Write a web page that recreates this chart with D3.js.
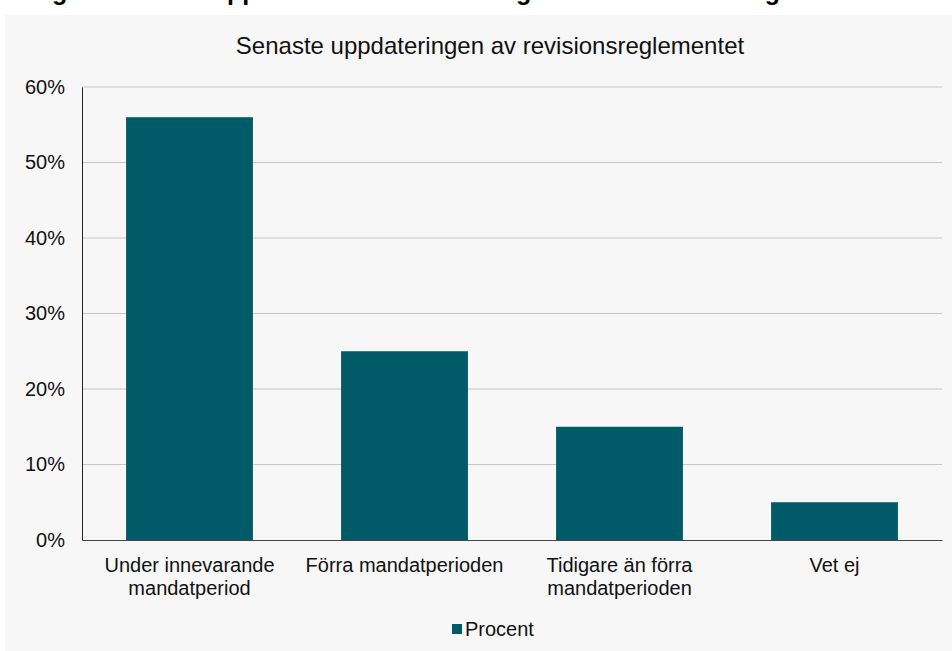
<!DOCTYPE html>
<meta charset="utf-8">
<style>
  body { margin: 0; background: #fff; }
  text { font-family: "Liberation Sans", Arial, sans-serif; }
</style>
<body>
<script src="https://d3js.org/d3.v7.min.js"></script>
<script>
  // Data
  var categories = ["Under innevarande\nmandatperiod", "Förra mandatperioden", "Tidigare än förra\nmandatperioden", "Vet ej"];
  var values = [0.56, 0.25, 0.15, 0.05];
  var yTicks = [0, 0.1, 0.2, 0.3, 0.4, 0.5, 0.6];
  var seriesName = "Procent";

  var W = 952, H = 651;
  var margin = {top: 87, right: 10, bottom: 111, left: 82};
  var width = W - margin.left - margin.right,
      height = H - margin.top - margin.bottom;

  var svg = d3.select("body").append("svg")
      .attr("width", W)
      .attr("height", H);

  // heading of the page, cut off by the top edge (only descenders show)
  svg.append("text")
      .attr("x", 13)
      .attr("y", 0)
      .style("font-weight", "bold")
      .style("font-size", "25px")
      .text("Diagram 12: När uppdaterades revisionsreglementet senast i regionen?");

  // chart background
  svg.append("rect")
      .attr("x", 5).attr("y", 15)
      .attr("width", W - 5).attr("height", H - 15)
      .attr("fill", "#f7f7f7");

  svg.append("text")
      .attr("x", 490)
      .attr("y", 54)
      .attr("text-anchor", "middle")
      .style("font-size", "24px")
      .attr("fill", "#111")
      .text("Senaste uppdateringen av revisionsreglementet");

  var g = svg.append("g")
      .attr("transform", "translate(" + margin.left + "," + margin.top + ")");

  var x = d3.scaleBand()
      .domain(categories)
      .range([0, width])
      .paddingInner(0.41)
      .paddingOuter(0.205);

  var y = d3.scaleLinear()
      .domain([0, 0.6])
      .range([height, 0]);

  // gridlines
  g.selectAll(".grid")
      .data(yTicks.filter(function(d) { return d > 0; }))
    .enter().append("line")
      .attr("x1", 0).attr("x2", width)
      .attr("y1", function(d) { return y(d); })
      .attr("y2", function(d) { return y(d); })
      .attr("stroke", "#c6c6c6")
      .attr("stroke-width", 1);

  // bars
  g.selectAll(".bar")
      .data(values)
    .enter().append("rect")
      .attr("x", function(d, i) { return x(categories[i]); })
      .attr("width", x.bandwidth())
      .attr("y", function(d) { return y(d); })
      .attr("height", function(d) { return height - y(d); })
      .attr("fill", "#005a68");

  // y axis
  var yAxis = g.append("g")
      .call(d3.axisLeft(y).tickValues(yTicks).tickSize(0).tickPadding(17)
        .tickFormat(d3.format(".0%")));
  yAxis.select(".domain").attr("stroke", "#222");
  yAxis.selectAll("text")
      .style("font-size", "20px")
      .attr("fill", "#111");

  // x axis
  var xAxis = g.append("g")
      .attr("transform", "translate(0," + height + ")")
      .call(d3.axisBottom(x).tickSize(0).tickFormat(""));
  xAxis.select(".domain").attr("stroke", "#444");

  xAxis.selectAll(".tick").each(function(d) {
    var t = d3.select(this).append("text")
        .attr("text-anchor", "middle")
        .attr("fill", "#111")
        .style("font-size", "20px");
    d.split("\n").forEach(function(line, j) {
      t.append("tspan")
          .attr("x", 0)
          .attr("y", 32 + j * 23)
          .text(line);
    });
  });

  // legend
  var legend = svg.append("g")
      .attr("transform", "translate(452,629)");
  legend.append("rect")
      .attr("x", 0).attr("y", -5)
      .attr("width", 10).attr("height", 10)
      .attr("fill", "#005a68");
  legend.append("text")
      .attr("x", 13).attr("y", 0)
      .attr("dy", "0.35em")
      .style("font-size", "20px")
      .attr("fill", "#111")
      .text(seriesName);
</script>
</body>
